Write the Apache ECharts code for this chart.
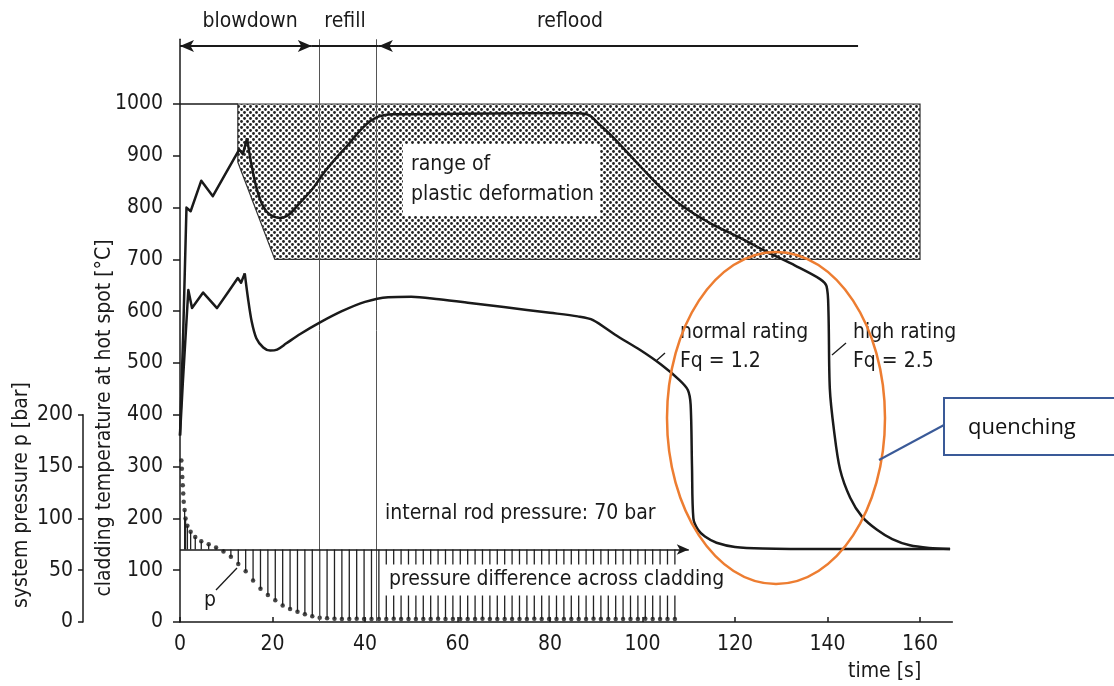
<!DOCTYPE html>
<html>
<head>
<meta charset="utf-8">
<script src="https://cdn.jsdelivr.net/npm/echarts@6/dist/echarts.min.js"></script>
<style>
  html, body { margin: 0; background: #fff; }
  #chart { width: 1114px; height: 686px; }
</style>
</head>
<body>
<div id="chart"></div>
<script>
// cladding temperature, high rating (Fq = 2.5)
const highTime = [0, 0.7, 1.4, 2.3, 4.6, 7.1, 10, 12.8, 13.6, 14.5, 15.3, 16.6, 18, 19.5, 21.5, 23.5, 26, 28.8, 31, 33.5, 36, 39.6, 42.5, 46, 60, 75, 86, 88.5, 90.5, 93.6, 100, 104, 108, 114.6, 121, 127, 133, 138.4, 139.8, 140.2, 140.5, 141.4, 142.7, 144.9, 147.5, 150.7, 154, 157.8, 162, 166.5]
const highTemp = [360, 560, 800, 793, 852, 822, 868, 912, 903, 934, 890, 836, 802, 786, 780, 786, 810, 838, 866, 893, 918, 955, 974, 980, 981, 982, 982, 978, 962, 936, 875, 838, 807, 770, 742, 714, 688, 662, 648, 600, 450, 370, 295, 240, 203, 178, 160, 148, 143, 141]

// cladding temperature, normal rating (Fq = 1.2)
const normTime = [0, 0.6, 1.8, 2.6, 5, 8, 10.5, 12.5, 13.2, 14, 14.7, 15.5, 16.5, 18, 19.5, 21, 23, 26, 30, 35, 40, 45, 50, 56, 62.7, 70, 80, 86, 89.3, 94, 99.5, 104, 108, 109.8, 110.4, 110.7, 111, 112, 113.5, 116, 120, 126, 140, 158, 166.5]
const normTemp = [360, 460, 641, 606, 636, 606, 638, 664, 655, 673, 625, 580, 548, 530, 524, 526, 538, 556, 577, 600, 618, 627, 628, 623, 616, 608, 597, 590, 583, 555, 525, 497, 467, 448, 420, 300, 200, 178, 165, 153, 145, 142, 141, 141, 141]

// blowdown spikes are drawn straight, the rest smoothed
const spikeEnd = 9

// system pressure p [bar]
const pTime = [0.3, 0.4, 0.5, 0.6, 0.7, 0.8, 1.0, 1.2, 1.6, 2.3, 3.3, 4.6, 6.2, 7.8, 9.4, 11, 12.6, 14.2, 15.8, 17.4,
  19, 20.6, 22.2, 23.8, 25.4, 27, 28.6, 30.2, 31.8, 33.4, 35, 36.6, 38.2, 39.8, 41.4, 43, 44.6, 46.2, 47.8, 49.4,
  51, 52.6, 54.2, 55.8, 57.4, 59, 60.6, 62.2, 63.8, 65.4, 67, 68.6, 70.2, 71.8, 73.4, 75, 76.6, 78.2, 79.8, 81.4,
  83, 84.6, 86.2, 87.8, 89.4, 91, 92.6, 94.2, 95.8, 97.4, 99, 100.6, 102.2, 103.8, 105.4, 107]
const pBar = [156, 148, 140, 132, 124, 116, 108, 100, 93, 87, 82, 78, 75, 72, 68, 63, 56, 49, 40, 32,
  26, 21, 16, 12.5, 10, 7.5, 5.5, 4, 3.5, 3.2, 3, 3, 3.2, 3, 2.8, 3, 3, 3.2, 3, 3,
  2.8, 3, 3, 3.2, 3, 3, 3, 2.8, 3, 3.2, 3, 3, 3, 3, 2.8, 3, 3.2, 3, 3, 3,
  3, 2.8, 3, 3, 3.2, 3, 3, 3, 2.8, 3, 3, 3.2, 3, 3, 3, 3]

const rodPressure = 70

// range of plastic deformation (outline)
const plasticTime = [12.5, 160, 160, 20.5, 12.5]
const plasticTemp = [1000, 1000, 700, 700, 888]

// phase boundaries
const phaseBounds = [30, 42.5]

const xTicks = [0, 20, 40, 60, 80, 100, 120, 140, 160]
const tempTicks = [0, 100, 200, 300, 400, 500, 600, 700, 800, 900, 1000]
const presTicks = [0, 50, 100, 150, 200]

const FONT = "'DejaVu Sans Condensed', 'DejaVu Sans', sans-serif"
const INK = '#1a1a1a'

// dotted fill for plastic range
const pat = document.createElement('canvas')
pat.width = 6
pat.height = 6
const pc = pat.getContext('2d')
pc.fillStyle = '#fff'
pc.fillRect(0, 0, 6, 6)
pc.fillStyle = '#222'
pc.beginPath(); pc.arc(1.5, 1.5, 1.4, 0, Math.PI * 2); pc.fill()
pc.beginPath(); pc.arc(4.5, 4.5, 1.4, 0, Math.PI * 2); pc.fill()

const zip = (a, b) => a.map((v, i) => [v, b[i]])

const chart = echarts.init(document.getElementById('chart'))

const lineSeries = (name, data, smooth) => ({
  name,
  type: 'line',
  data,
  showSymbol: false,
  smooth,
  lineStyle: { color: INK, width: 2.5, join: 'round' },
  silent: true,
  z: 5
})

const txt = (text, x, y, extra) => ({
  type: 'text',
  x, y,
  z: 50,
  style: Object.assign({
    text,
    fontFamily: FONT,
    fontSize: 21,
    fill: INK,
    align: 'left',
    verticalAlign: 'middle'
  }, extra || {})
})

const plain = v => String(v)

const highData = zip(highTime, highTemp)
const normData = zip(normTime, normTemp)

const option = {
  animation: false,
  backgroundColor: '#fff',
  grid: [
    { left: 180, right: 161.6, top: 39.25, bottom: 64 },
    { left: 83, width: 10, top: 414.8, bottom: 64 }
  ],
  xAxis: [
    {
      gridIndex: 0, type: 'value', min: 0, max: 167, interval: 20,
      axisLine: { lineStyle: { color: INK, width: 1.5 } },
      axisTick: { inside: true, length: 5, customValues: xTicks, lineStyle: { color: INK, width: 1.5 } },
      axisLabel: { customValues: xTicks, formatter: plain, margin: 12, fontSize: 21, fontFamily: FONT, color: INK },
      splitLine: { show: false }
    },
    { gridIndex: 1, type: 'value', min: 0, max: 1, show: false }
  ],
  yAxis: [
    {
      gridIndex: 0, type: 'value', min: 0, max: 1125, interval: 100,
      axisLine: { show: true, lineStyle: { color: INK, width: 1.5 } },
      axisTick: { show: true, length: 7, customValues: tempTicks, lineStyle: { color: INK, width: 1.5 } },
      axisLabel: { customValues: tempTicks, formatter: plain, margin: 17, fontSize: 21, fontFamily: FONT, color: INK },
      splitLine: { show: false }
    },
    { gridIndex: 0, type: 'value', min: 0, max: 562.5, show: false },
    {
      gridIndex: 1, type: 'value', min: 0, max: 200, interval: 50, position: 'left',
      axisLine: { show: true, lineStyle: { color: INK, width: 1.5 } },
      axisTick: { show: true, length: 5, customValues: presTicks, lineStyle: { color: INK, width: 1.5 } },
      axisLabel: { customValues: presTicks, formatter: plain, margin: 10, fontSize: 21, fontFamily: FONT, color: INK },
      splitLine: { show: false }
    }
  ],
  series: [
    {
      name: 'plastic range',
      type: 'custom',
      xAxisIndex: 0, yAxisIndex: 0,
      data: [0],
      silent: true,
      z: 1,
      renderItem: (params, api) => ({
        type: 'polygon',
        shape: { points: plasticTime.map((t, i) => api.coord([t, plasticTemp[i]])) },
        style: { fill: { image: pat, repeat: 'repeat' }, stroke: '#333', lineWidth: 1.2 }
      })
    },
    {
      name: 'guides',
      type: 'line',
      xAxisIndex: 0, yAxisIndex: 0,
      data: [[0, 1000], [12.5, 1000]],
      showSymbol: false,
      lineStyle: { color: INK, width: 1.5 },
      silent: true,
      z: 2,
      markLine: {
        silent: true,
        symbol: ['none', 'none'],
        symbolSize: [9, 14],
        label: { show: false },
        lineStyle: { color: '#555', width: 1, type: 'solid' },
        data: [
          ...phaseBounds.map(v => ({ xAxis: v })),
          [{ coord: [0, 1112], symbol: 'arrow' }, { coord: [28.5, 1112], symbol: 'arrow' }],
          [{ coord: [28.5, 1112] }, { coord: [43, 1112] }],
          [{ coord: [43, 1112], symbol: 'arrow' }, { coord: [146.6, 1112] }]
        ].map(d => Array.isArray(d)
          ? d.map(e => Object.assign({ lineStyle: { color: INK, width: 1.8 } }, e))
          : d)
      }
    },
    lineSeries('high rating', highData.slice(0, spikeEnd + 1), false),
    lineSeries('high rating', highData.slice(spikeEnd), 0.3),
    lineSeries('normal rating', normData.slice(0, spikeEnd + 1), false),
    lineSeries('normal rating', normData.slice(spikeEnd), 0.3),
    {
      name: 'pressure difference',
      type: 'custom',
      xAxisIndex: 0, yAxisIndex: 1,
      data: zip(pTime, pBar).filter(d => d[0] >= 1),
      silent: true,
      z: 3,
      renderItem: (params, api) => {
        const a = api.coord([api.value(0), rodPressure])
        const b = api.coord([api.value(0), api.value(1)])
        return {
          type: 'line',
          shape: { x1: a[0], y1: a[1], x2: b[0], y2: b[1] },
          style: { stroke: '#222', lineWidth: 1.3 }
        }
      }
    },
    {
      name: 'p',
      type: 'scatter',
      xAxisIndex: 0, yAxisIndex: 1,
      data: zip(pTime, pBar),
      symbolSize: 4.5,
      itemStyle: { color: INK },
      silent: true,
      z: 4,
      markLine: {
        silent: true,
        symbol: ['none', 'arrow'],
        symbolSize: [8, 12],
        label: { show: false },
        lineStyle: { color: INK, width: 1.6, type: 'solid' },
        data: [
          [{ coord: [0, rodPressure] }, { coord: [110, rodPressure] }],
          [{ coord: [108.8, rodPressure], symbol: 'none', lineStyle: { type: 'dashed', width: 1.2, color: '#444' } },
           { coord: [108.8, -2], symbol: 'none' }]
        ]
      }
    }
  ],
  graphic: [
    // phase labels
    txt('blowdown', 250, 22, { align: 'center' }),
    txt('refill', 345, 22, { align: 'center' }),
    txt('reflood', 570, 22, { align: 'center' }),
    // axis names
    txt('cladding temperature at hot spot [°C]', 105, 418, { align: 'center', fontSize: 21 }),
    txt('system pressure p [bar]', 22, 495, { align: 'center', fontSize: 21 }),
    txt('time [s]', 848, 672, { fontSize: 21 }),
    // plastic range label
    txt('range of\nplastic deformation', 403, 180, { backgroundColor: '#fff', padding: [6, 6, 6, 8], lineHeight: 30, fontSize: 21 }),
    txt('normal rating\nFq = 1.2', 680, 347, { lineHeight: 29 }),
    txt('high rating\nFq = 2.5', 853, 347, { lineHeight: 29 }),
    txt('internal rod pressure: 70 bar', 385, 514),
    txt('pressure difference across cladding', 385, 580, { backgroundColor: '#fff', padding: [5, 4, 5, 4] }),
    txt('p', 204, 601),
    { type: 'line', z: 50, shape: { x1: 656, y1: 361, x2: 665, y2: 353 }, style: { stroke: INK, lineWidth: 1.3 } },
    { type: 'line', z: 50, shape: { x1: 832, y1: 355, x2: 846, y2: 343 }, style: { stroke: INK, lineWidth: 1.3 } },
    { type: 'line', z: 50, shape: { x1: 216, y1: 590, x2: 237, y2: 568 }, style: { stroke: INK, lineWidth: 1.3 } },
    // quenching annotation
    { type: 'ellipse', z: 60, shape: { cx: 776, cy: 418, rx: 109, ry: 166 }, style: { fill: 'none', stroke: '#ED7D31', lineWidth: 2.5 } },
    { type: 'line', z: 60, shape: { x1: 944, y1: 425, x2: 879, y2: 460 }, style: { stroke: '#3A5A98', lineWidth: 2 } },
    { type: 'rect', z: 60, shape: { x: 944, y: 398, width: 200, height: 57 }, style: { fill: '#fff', stroke: '#3A5A98', lineWidth: 2 } },
    { type: 'text', z: 61, x: 968, y: 428, style: { text: 'quenching', fontFamily: "'Open Sans', sans-serif", fontSize: 22, fill: '#111', verticalAlign: 'middle' } }
  ]
}

// rotate vertical axis names
option.graphic[3].rotation = Math.PI / 2
option.graphic[4].rotation = Math.PI / 2

chart.setOption(option)
</script>
</body>
</html>
